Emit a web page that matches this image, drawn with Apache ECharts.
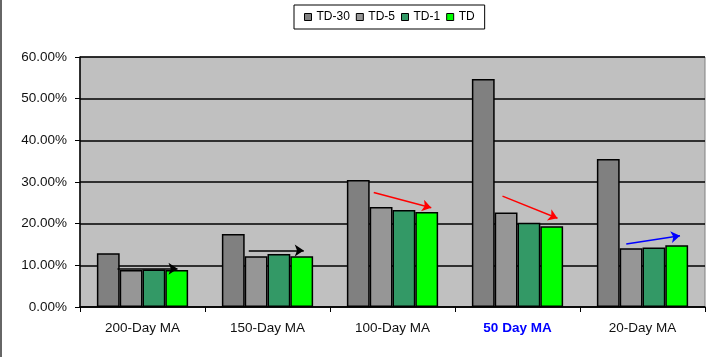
<!DOCTYPE html>
<html>
<head>
<meta charset="utf-8">
<script src="https://cdn.jsdelivr.net/npm/echarts@6/dist/echarts.min.js"></script>
<style>
html,body{margin:0;padding:0;background:#fff;}
#c{width:720px;height:357px;}
</style>
</head>
<body>
<div id="c"></div>
<script>
const categories = ['200-Day MA', '150-Day MA', '100-Day MA', '50 Day MA', '20-Day MA'];
const seriesNames = ['TD-30', 'TD-5', 'TD-1', 'TD'];
const td30 = [12.9, 17.5, 30.5, 54.7, 35.5];
const td5 = [8.9, 12.2, 24.0, 22.7, 14.1];
const td1 = [9.0, 12.7, 23.3, 20.2, 14.3];
const td = [8.9, 12.2, 22.8, 19.4, 14.8];
const yTicks = [0, 10, 20, 30, 40, 50, 60];
// annotation arrows: [x1, y1, x2, y2] in (category-position, percent) space
const arrowBlack1 = [0.30, 9.2, 0.78, 9.2];
const arrowBlack2 = [1.35, 13.55, 1.79, 13.55];
const arrowRed1 = [2.35, 27.5, 2.81, 23.8];
const arrowRed2 = [3.38, 26.6, 3.82, 21.3];
const arrowBlue = [4.37, 15.1, 4.80, 17.1];

const colors = ['#808080', '#969696', '#339966', '#00FF00'];
const values = [td30, td5, td1, td];

const chart = echarts.init(document.getElementById('c'), null, {renderer: 'canvas'});
const font = '"Liberation Sans", Arial, sans-serif';

function arrow(a, color) {
  return {coords: [[a[0], a[1]], [a[2], a[3]]], lineStyle: {color: color}};
}

const barSeries = seriesNames.map((n, i) => ({
  name: n,
  type: 'bar',
  data: values[i],
  barGap: '0%',
  barCategoryGap: '27%',
  itemStyle: {color: colors[i], borderColor: '#000', borderWidth: 1.5},
  emphasis: {disabled: true}
}));

chart.setOption({
  animation: false,
  textStyle: {fontFamily: font},
  legend: {
    data: seriesNames,
    left: 294,
    top: 5,
    padding: [6, 10, 6, 10],
    itemGap: 6,
    itemWidth: 7,
    itemHeight: 7,
    icon: 'rect',
    borderColor: '#000',
    borderWidth: 1,
    textStyle: {fontSize: 12, color: '#000', fontFamily: font},
    itemStyle: {borderColor: '#000', borderWidth: 1}
  },
  grid: {
    left: 80, right: 15, top: 57, bottom: 50,
    show: true, backgroundColor: '#C0C0C0', borderColor: '#808080', borderWidth: 1
  },
  xAxis: [{
    type: 'category',
    data: categories,
    axisLine: {lineStyle: {color: '#000', width: 1.5}},
    axisTick: {show: true, length: 5, lineStyle: {color: '#000', width: 1}},
    axisLabel: {
      margin: 14,
      fontSize: 13.5,
      fontFamily: font,
      formatter: function (v) { return v === '50 Day MA' ? '{b|' + v + '}' : '{n|' + v + '}'; },
      rich: {
        n: {color: '#111', fontSize: 13.5, fontFamily: font},
        b: {color: '#0000FF', fontSize: 13.5, fontWeight: 'bold', fontFamily: font}
      }
    }
  }, {
    type: 'value', min: 0, max: 5, show: false
  }],
  yAxis: {
    type: 'value',
    min: yTicks[0],
    max: yTicks[yTicks.length - 1],
    interval: 10,
    axisLine: {show: true, lineStyle: {color: '#000', width: 1.5}},
    axisTick: {show: true, length: 5, lineStyle: {color: '#000', width: 1}},
    axisLabel: {
      fontSize: 13.5, color: '#111', fontFamily: font, margin: 13,
      formatter: v => v.toFixed(2) + '%'
    },
    splitLine: {show: true, lineStyle: {color: '#000', width: 1.5}}
  },
  series: barSeries.concat([{
    type: 'lines',
    coordinateSystem: 'cartesian2d',
    xAxisIndex: 1,
    yAxisIndex: 0,
    symbol: ['none', 'arrow'],
    symbolSize: [0, 9],
    lineStyle: {width: 1.5, opacity: 1},
    z: 10,
    data: [
      arrow(arrowBlack1, '#000'),
      arrow(arrowBlack2, '#000'),
      arrow(arrowRed1, '#FF0000'),
      arrow(arrowRed2, '#FF0000'),
      arrow(arrowBlue, '#0000FF')
    ]
  }]),
  graphic: [{
    type: 'line', shape: {x1: 1, y1: 0, x2: 1, y2: 357},
    style: {stroke: '#333', lineWidth: 1.5}
  }]
});
</script>
</body>
</html>
